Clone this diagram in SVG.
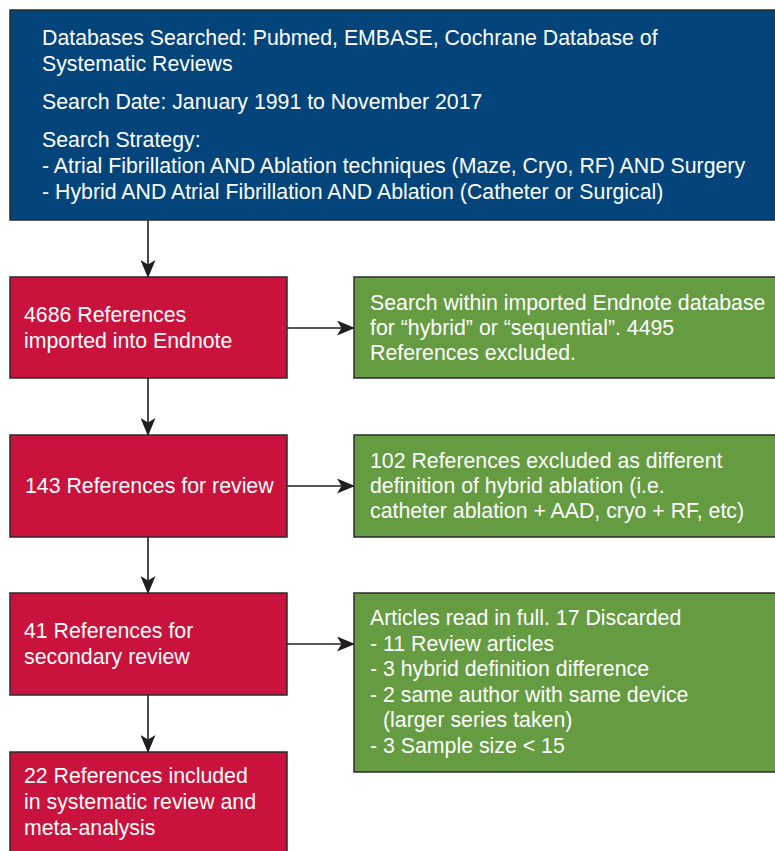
<svg xmlns="http://www.w3.org/2000/svg" width="775" height="851" viewBox="0 0 775 851">
<defs>
<style>
.box{stroke:#2b2b2b;stroke-width:1.5}
.blue{fill:#03457b}
.red{fill:#c9123c}
.green{fill:#659b41}
text{font-family:"Liberation Sans",Arial,Helvetica,sans-serif;font-size:21.3px;fill:#ffffff}
.conn line{stroke:#231f20;stroke-width:1.6;fill:none}
</style>
<marker id="ah" viewBox="0 0 18 15" refX="17" refY="7.5" markerWidth="18" markerHeight="15" markerUnits="userSpaceOnUse" orient="auto">
<path d="M0,0 L18,7.5 L0,15 L4.5,7.5 Z" fill="#231f20"/>
</marker>
</defs>
<rect width="775" height="851" fill="#ffffff"/>
<g class="conn">
<line x1="148" y1="220" x2="148" y2="277" marker-end="url(#ah)"/>
<line x1="148" y1="378" x2="148" y2="435" marker-end="url(#ah)"/>
<line x1="148" y1="537" x2="148" y2="593" marker-end="url(#ah)"/>
<line x1="148" y1="695" x2="148" y2="752" marker-end="url(#ah)"/>
<line x1="287" y1="328" x2="354" y2="328" marker-end="url(#ah)"/>
<line x1="287" y1="486" x2="354" y2="486" marker-end="url(#ah)"/>
<line x1="287" y1="644" x2="354" y2="644" marker-end="url(#ah)"/>
</g>
<g id="search">
<rect class="box blue" x="10" y="10" width="770" height="210"/>
<text x="42" y="45">Databases Searched: Pubmed, EMBASE, Cochrane Database of</text>
<text x="42" y="71">Systematic Reviews</text>
<text x="42" y="109">Search Date: January 1991 to November 2017</text>
<text x="42" y="147">Search Strategy:</text>
<text x="42" y="173">- Atrial Fibrillation AND Ablation techniques (Maze, Cryo, RF) AND Surgery</text>
<text x="42" y="199">- Hybrid AND Atrial Fibrillation AND Ablation (Catheter or Surgical)</text>
</g>
<g id="imported">
<rect class="box red" x="10" y="277" width="277" height="101"/>
<text x="24" y="322">4686 References</text>
<text x="24" y="348">imported into Endnote</text>
</g>
<g id="excluded1">
<rect class="box green" x="354" y="277" width="426" height="101"/>
<text x="370" y="310">Search within imported Endnote database</text>
<text x="370" y="335">for “hybrid” or “sequential”. 4495</text>
<text x="370" y="360">References excluded.</text>
</g>
<g id="review">
<rect class="box red" x="10" y="435" width="277" height="102"/>
<text x="25" y="493">143 References for review</text>
</g>
<g id="excluded2">
<rect class="box green" x="354" y="435" width="426" height="102"/>
<text x="370" y="468">102 References excluded as different</text>
<text x="370" y="493">definition of hybrid ablation (i.e.</text>
<text x="370" y="518">catheter ablation + AAD, cryo + RF, etc)</text>
</g>
<g id="secondary">
<rect class="box red" x="10" y="593" width="277" height="102"/>
<text x="24" y="638">41 References for</text>
<text x="24" y="664">secondary review</text>
</g>
<g id="excluded3">
<rect class="box green" x="354" y="593" width="426" height="179"/>
<text x="370" y="625">Articles read in full. 17 Discarded</text>
<text x="370" y="651">- 11 Review articles</text>
<text x="370" y="676">- 3 hybrid definition difference</text>
<text x="370" y="702">- 2 same author with same device</text>
<text x="383" y="727">(larger series taken)</text>
<text x="370" y="753">- 3 Sample size &lt; 15</text>
</g>
<g id="included">
<rect class="box red" x="10" y="752" width="277" height="110"/>
<text x="24" y="783">22 References included</text>
<text x="24" y="809">in systematic review and</text>
<text x="24" y="835">meta-analysis</text>
</g>
</svg>
